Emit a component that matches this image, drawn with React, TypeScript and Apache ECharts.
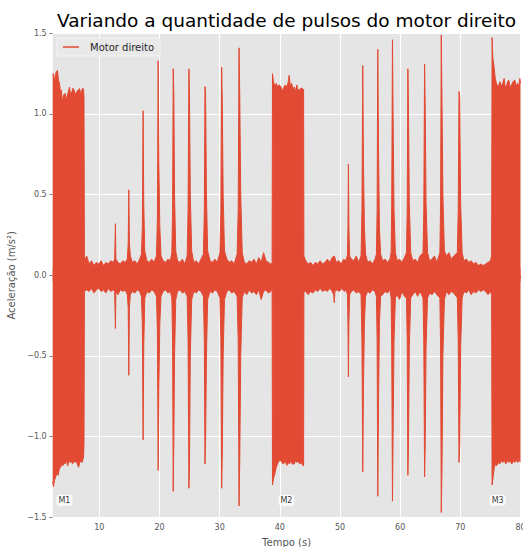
import React, { useEffect, useRef } from "react";
import * as echarts from "echarts";

const TITLE = "Variando a quantidade de pulsos do motor direito";
const SERIES_NAME = "Motor direito";
const X_NAME = "Tempo (s)";
const Y_NAME = "Aceleração (m/s²)";

// Upper envelope of the acceleration signal, [time (s), value (m/s²)]
const upperEnvelope: [number, number][] = [
  [2.25, 1.24], [2.38, 1.25], [2.6, 1.2], [2.8, 1.26], [3.05, 1.27], [3.2, 1.21], [3.39, 1.19], [3.55, 1.12],
  [3.67, 1.15], [3.8, 1.1], [3.95, 1.085], [4.1, 1.12], [4.33, 1.127], [4.45, 1.09], [4.61, 1.106], [4.8, 1.13],
  [5.05, 1.167], [5.2, 1.12], [5.45, 1.137], [5.6, 1.16], [5.83, 1.147], [6.0, 1.12], [6.28, 1.137], [6.5, 1.15],
  [6.72, 1.157], [6.9, 1.12], [7.11, 1.15], [7.25, 1.16], [7.39, 1.15], [7.45, 1.1], [7.52, 0.09],
  [7.9, 0.12], [8.3, 0.07], [8.7, 0.09], [9.1, 0.06], [9.5, 0.08], [9.9, 0.07], [10.3, 0.09], [10.7, 0.06],
  [11.1, 0.08], [11.5, 0.07], [11.9, 0.09], [12.3, 0.08],
  [12.55, 0.1], [12.67, 0.32], [12.75, 0.1],
  [13.1, 0.08], [13.5, 0.07], [13.9, 0.09], [14.3, 0.08], [14.65, 0.1],
  [14.8, 0.2], [14.9, 0.53], [15.0, 0.2], [15.15, 0.12],
  [15.5, 0.08], [15.9, 0.09], [16.3, 0.07], [16.7, 0.1], [17.0, 0.13],
  [17.15, 0.3], [17.28, 1.02], [17.38, 0.45], [17.55, 0.15],
  [17.9, 0.09], [18.3, 0.08], [18.7, 0.1], [19.1, 0.08], [19.5, 0.12],
  [19.65, 0.35], [19.78, 1.33], [19.9, 0.7], [20.05, 0.3], [20.25, 0.12],
  [20.6, 0.09], [21.0, 0.08], [21.4, 0.1], [21.8, 0.09], [22.05, 0.14],
  [22.18, 0.4], [22.28, 1.28], [22.38, 1.13], [22.5, 0.5], [22.7, 0.15],
  [23.0, 0.09], [23.4, 0.08], [23.8, 0.1], [24.2, 0.07], [24.6, 0.12],
  [24.75, 0.4], [24.89, 1.28], [24.98, 1.12], [25.12, 0.5], [25.35, 0.15],
  [25.7, 0.08], [26.1, 0.09], [26.5, 0.07], [26.9, 0.1], [27.3, 0.13],
  [27.45, 0.4], [27.56, 1.17], [27.66, 1.13], [27.8, 0.5], [28.0, 0.15],
  [28.4, 0.09], [28.8, 0.08], [29.2, 0.1], [29.6, 0.08], [30.05, 0.14],
  [30.2, 0.4], [30.33, 1.29], [30.43, 1.09], [30.58, 0.5], [30.8, 0.15],
  [31.2, 0.1], [31.6, 0.08], [32.0, 0.09], [32.4, 0.07], [32.9, 0.13],
  [33.08, 0.4], [33.22, 1.41], [33.34, 1.11], [33.5, 0.5], [33.75, 0.14],
  [34.1, 0.08], [34.5, 0.07], [34.9, 0.09], [35.3, 0.08], [35.7, 0.1], [36.1, 0.07], [36.5, 0.11], [36.9, 0.08],
  [37.3, 0.14], [37.7, 0.09], [38.1, 0.08], [38.5, 0.07], [38.72, 0.08],
  [38.78, 1.25], [38.95, 1.2], [39.17, 1.167], [39.4, 1.19], [39.6, 1.17], [39.9, 1.18], [40.17, 1.17], [40.4, 1.14],
  [40.6, 1.16], [40.9, 1.18], [41.17, 1.167], [41.4, 1.2], [41.55, 1.24], [41.75, 1.17], [41.95, 1.19], [42.2, 1.15],
  [42.39, 1.167], [42.6, 1.14], [42.83, 1.18], [43.0, 1.15], [43.22, 1.147], [43.5, 1.16], [43.78, 1.157], [43.95, 1.15],
  [44.0, 0.12],
  [44.3, 0.09], [44.7, 0.07], [45.1, 0.08], [45.5, 0.06], [45.9, 0.08], [46.3, 0.07], [46.7, 0.09], [47.1, 0.07],
  [47.5, 0.08], [47.9, 0.1], [48.3, 0.08], [48.7, 0.11], [49.05, 0.12], [49.4, 0.08], [49.8, 0.09], [50.2, 0.07],
  [50.6, 0.1], [51.0, 0.09], [51.25, 0.13],
  [51.32, 0.3], [51.4, 0.69], [51.48, 0.3], [51.6, 0.12],
  [51.9, 0.1], [52.3, 0.09], [52.7, 0.12], [53.1, 0.08], [53.5, 0.12],
  [53.65, 0.4], [53.78, 1.3], [53.9, 0.7], [54.05, 0.3], [54.25, 0.13],
  [54.6, 0.08], [55.0, 0.09], [55.4, 0.07], [55.8, 0.1], [56.05, 0.13],
  [56.17, 0.4], [56.28, 1.4], [56.4, 0.8], [56.55, 0.3], [56.75, 0.13],
  [57.1, 0.09], [57.5, 0.1], [57.9, 0.08], [58.3, 0.1], [58.5, 0.14],
  [58.6, 0.45], [58.72, 1.46], [58.82, 1.0], [58.98, 0.4], [59.2, 0.14],
  [59.5, 0.09], [59.9, 0.1], [60.3, 0.08], [60.7, 0.11], [61.05, 0.14],
  [61.17, 0.4], [61.28, 1.28], [61.38, 1.04], [61.52, 0.45], [61.75, 0.14],
  [62.1, 0.09], [62.5, 0.1], [62.9, 0.08], [63.3, 0.12], [63.8, 0.14],
  [63.93, 0.4], [64.06, 1.31], [64.16, 1.05], [64.3, 0.45], [64.55, 0.14],
  [64.9, 0.09], [65.3, 0.1], [65.7, 0.12], [66.1, 0.08], [66.6, 0.14],
  [66.72, 0.45], [66.83, 1.49], [66.95, 1.09], [67.1, 0.5], [67.35, 0.15],
  [67.7, 0.12], [68.1, 0.14], [68.5, 0.1], [68.9, 0.12], [69.5, 0.14],
  [69.65, 0.4], [69.78, 1.14], [69.9, 1.1], [70.05, 0.45], [70.3, 0.14],
  [70.6, 0.09], [71.0, 0.1], [71.4, 0.08], [71.8, 0.09], [72.2, 0.07], [72.6, 0.08], [73.0, 0.06], [73.4, 0.07],
  [73.8, 0.06], [74.2, 0.07], [74.6, 0.08], [75.0, 0.09], [75.2, 0.12],
  [75.28, 1.474], [75.4, 1.35], [75.61, 1.29], [75.8, 1.22], [76.0, 1.19], [76.2, 1.17], [76.39, 1.18], [76.6, 1.2],
  [76.83, 1.17], [77.05, 1.19], [77.28, 1.22], [77.45, 1.17], [77.67, 1.17], [77.85, 1.2], [78.06, 1.21], [78.3, 1.16],
  [78.5, 1.18], [78.75, 1.2], [79.06, 1.21], [79.3, 1.17], [79.5, 1.19], [79.7, 1.17], [79.89, 1.22], [80.0, 1.19],
];

// Lower envelope of the acceleration signal, [time (s), value (m/s²)]
const lowerEnvelope: [number, number][] = [
  [2.25, -1.28], [2.38, -1.31], [2.55, -1.27], [2.75, -1.25], [2.95, -1.22], [3.15, -1.24], [3.35, -1.2], [3.55, -1.19],
  [3.75, -1.17], [3.95, -1.18], [4.15, -1.16], [4.33, -1.17], [4.55, -1.15], [4.75, -1.18], [4.95, -1.147], [5.15, -1.16],
  [5.35, -1.15], [5.55, -1.17], [5.75, -1.15], [5.95, -1.16], [6.15, -1.15], [6.35, -1.17], [6.55, -1.19], [6.75, -1.16],
  [6.95, -1.15], [7.11, -1.16], [7.3, -1.14], [7.39, -1.116], [7.45, -1.05], [7.52, -0.1],
  [7.9, -0.09], [8.3, -0.1], [8.7, -0.08], [9.1, -0.11], [9.5, -0.09], [9.9, -0.08], [10.3, -0.1], [10.7, -0.09],
  [11.1, -0.11], [11.5, -0.08], [11.9, -0.1], [12.3, -0.09],
  [12.55, -0.1], [12.67, -0.33], [12.75, -0.1],
  [13.1, -0.12], [13.5, -0.09], [13.9, -0.1], [14.3, -0.09], [14.65, -0.12],
  [14.8, -0.2], [14.9, -0.62], [15.0, -0.2], [15.15, -0.12],
  [15.5, -0.1], [15.9, -0.11], [16.3, -0.09], [16.7, -0.1], [17.0, -0.13],
  [17.15, -0.3], [17.28, -1.02], [17.38, -0.45], [17.55, -0.14],
  [17.9, -0.1], [18.3, -0.11], [18.7, -0.09], [19.1, -0.1], [19.5, -0.13],
  [19.65, -0.35], [19.78, -1.21], [19.9, -0.7], [20.05, -0.3], [20.25, -0.13],
  [20.6, -0.1], [21.0, -0.09], [21.4, -0.11], [21.8, -0.1], [22.05, -0.14],
  [22.18, -0.4], [22.28, -1.34], [22.38, -1.04], [22.5, -0.5], [22.7, -0.15],
  [23.0, -0.1], [23.4, -0.09], [23.8, -0.11], [24.2, -0.1], [24.6, -0.13],
  [24.75, -0.4], [24.89, -1.32], [24.98, -1.2], [25.12, -0.5], [25.35, -0.15],
  [25.7, -0.1], [26.1, -0.11], [26.5, -0.09], [26.9, -0.1], [27.3, -0.13],
  [27.45, -0.4], [27.56, -1.17], [27.66, -1.03], [27.8, -0.5], [28.0, -0.15],
  [28.4, -0.1], [28.8, -0.11], [29.2, -0.09], [29.6, -0.1], [30.05, -0.14],
  [30.2, -0.4], [30.33, -1.32], [30.43, -1.12], [30.58, -0.5], [30.8, -0.15],
  [31.2, -0.1], [31.6, -0.09], [32.0, -0.11], [32.4, -0.1], [32.9, -0.13],
  [33.08, -0.4], [33.22, -1.43], [33.34, -1.14], [33.5, -0.5], [33.75, -0.14],
  [34.1, -0.1], [34.5, -0.12], [34.9, -0.09], [35.3, -0.11], [35.7, -0.1], [36.1, -0.12], [36.5, -0.09], [36.9, -0.15],
  [37.3, -0.1], [37.7, -0.09], [38.1, -0.11], [38.5, -0.1], [38.72, -0.08],
  [38.78, -1.3], [38.95, -1.26], [39.17, -1.23], [39.4, -1.19], [39.6, -1.17], [39.85, -1.15], [40.1, -1.147], [40.35, -1.16],
  [40.6, -1.17], [40.85, -1.15], [41.17, -1.178], [41.4, -1.16], [41.6, -1.17], [41.85, -1.15], [42.1, -1.17], [42.39, -1.17],
  [42.6, -1.15], [42.83, -1.16], [43.05, -1.15], [43.3, -1.17], [43.55, -1.16], [43.8, -1.178], [43.95, -1.18], [44.0, -0.1],
  [44.3, -0.1], [44.7, -0.12], [45.1, -0.1], [45.5, -0.11], [45.9, -0.09], [46.3, -0.1], [46.7, -0.08], [47.1, -0.1],
  [47.5, -0.09], [47.9, -0.1], [48.3, -0.08], [48.7, -0.1], [48.95, -0.12], [49.05, -0.17], [49.15, -0.1], [49.5, -0.09],
  [49.9, -0.1], [50.3, -0.08], [50.7, -0.1], [51.0, -0.09], [51.25, -0.12],
  [51.32, -0.3], [51.4, -0.63], [51.48, -0.3], [51.6, -0.12],
  [51.9, -0.1], [52.3, -0.09], [52.7, -0.11], [53.1, -0.1], [53.5, -0.12],
  [53.65, -0.4], [53.78, -1.22], [53.9, -0.7], [54.05, -0.3], [54.25, -0.13],
  [54.6, -0.1], [55.0, -0.11], [55.4, -0.09], [55.8, -0.1], [56.05, -0.13],
  [56.17, -0.4], [56.28, -1.37], [56.4, -0.8], [56.55, -0.3], [56.75, -0.13],
  [57.1, -0.12], [57.5, -0.1], [57.9, -0.11], [58.3, -0.09], [58.5, -0.14],
  [58.6, -0.45], [58.72, -1.4], [58.82, -1.0], [58.98, -0.4], [59.2, -0.14],
  [59.5, -0.12], [59.9, -0.15], [60.3, -0.1], [60.7, -0.13], [61.05, -0.14],
  [61.17, -0.4], [61.28, -1.24], [61.38, -1.06], [61.52, -0.45], [61.75, -0.14],
  [62.1, -0.12], [62.5, -0.1], [62.9, -0.13], [63.3, -0.1], [63.8, -0.14],
  [63.93, -0.4], [64.06, -1.25], [64.16, -1.06], [64.3, -0.45], [64.55, -0.14],
  [64.9, -0.11], [65.3, -0.12], [65.7, -0.1], [66.1, -0.12], [66.6, -0.14],
  [66.72, -0.45], [66.83, -1.47], [66.95, -1.21], [67.1, -0.5], [67.35, -0.15],
  [67.7, -0.1], [68.1, -0.12], [68.5, -0.1], [68.9, -0.11], [69.5, -0.14],
  [69.65, -0.4], [69.78, -1.16], [69.9, -1.05], [70.05, -0.45], [70.3, -0.14],
  [70.6, -0.1], [71.0, -0.11], [71.4, -0.09], [71.8, -0.12], [72.2, -0.1], [72.6, -0.11], [73.0, -0.09], [73.4, -0.1],
  [73.8, -0.09], [74.2, -0.1], [74.6, -0.12], [75.0, -0.1], [75.2, -0.12],
  [75.28, -1.3], [75.45, -1.25], [75.65, -1.19], [75.85, -1.17], [76.05, -1.18], [76.3, -1.16], [76.55, -1.17], [76.8, -1.15],
  [77.05, -1.16], [77.3, -1.147], [77.55, -1.17], [77.8, -1.15], [78.05, -1.16], [78.3, -1.15], [78.55, -1.17], [78.8, -1.15],
  [79.05, -1.16], [79.3, -1.147], [79.55, -1.16], [79.8, -1.15], [80.0, -1.155],
];

const annotationLabels = ["M1", "M2", "M3"];
const annotationTimes = [4.2, 41.1, 76.2];
const annotationValues = [-1.395, -1.395, -1.395];

const RED = "#E24A33";
const FONT = "DejaVu Sans";

export default function App() {
  const ref = useRef<HTMLDivElement>(null);

  useEffect(() => {
    if (!ref.current) return;
    const chart = echarts.init(ref.current, null, { renderer: "svg" });

    const fmt = (v: number) => (v < 0 ? "\u2212" : "") + Math.abs(v).toFixed(1);

    const annotationData = annotationLabels.map((l, i) => ({
      value: [annotationTimes[i], annotationValues[i]],
      label: { formatter: l },
    }));

    const option: any = {
      animation: false,
      backgroundColor: "#ffffff",
      textStyle: { fontFamily: FONT },
      title: {
        text: TITLE,
        left: 57,
        top: 11,
        padding: 0,
        textStyle: { fontFamily: FONT, fontSize: 18.5, fontWeight: "normal", color: "#000000" },
      },
      legend: {
        data: [{ name: SERIES_NAME }],
        left: 57,
        top: 38,
        orient: "vertical",
        icon: "rect",
        itemWidth: 16,
        itemHeight: 1.5,
        padding: [4, 6, 4, 6],
        backgroundColor: "#E9E9E9",
        borderColor: "#F4F4F4",
        borderWidth: 1,
        borderRadius: 0,
        selectedMode: false,
        textStyle: { fontFamily: FONT, fontSize: 10, color: "#262626", padding: [0, 0, 0, 6] },
      },
      grid: {
        left: 52.7,
        right: 2.5,
        top: 33.3,
        bottom: 29.7,
        show: true,
        backgroundColor: "#E5E5E5",
        borderWidth: 0,
        containLabel: false,
        outerBoundsMode: "none",
      },
      xAxis: {
        type: "value",
        min: 2.25,
        max: 80,
        minInterval: 10,
        maxInterval: 10,
        splitNumber: 8,
        name: X_NAME,
        nameLocation: "middle",
        nameGap: 20,
        nameTextStyle: { fontFamily: FONT, fontSize: 10, color: "#555555" },
        axisLine: { show: false },
        axisTick: { show: true, length: 3.5, lineStyle: { color: "#888888", width: 1 } },
        axisLabel: {
          showMinLabel: false,
          fontFamily: FONT,
          fontSize: 8,
          color: "#555555",
          margin: 6,
        },
        splitLine: { show: true, showMinLine: false, lineStyle: { color: "#FFFFFF", width: 1 } },
      },
      yAxis: {
        type: "value",
        min: -1.5,
        max: 1.5,
        interval: 0.5,
        name: Y_NAME,
        nameLocation: "middle",
        nameRotate: 90,
        nameGap: 27,
        nameTextStyle: { fontFamily: FONT, fontSize: 10, color: "#555555" },
        axisLine: { show: false },
        axisTick: { show: true, length: 3.5, lineStyle: { color: "#888888", width: 1 } },
        axisLabel: {
          fontFamily: FONT,
          fontSize: 8,
          color: "#555555",
          margin: 6,
          formatter: fmt,
        },
        splitLine: { show: true, lineStyle: { color: "#FFFFFF", width: 1 } },
      },
      series: [
        {
          type: "line",
          name: SERIES_NAME,
          data: upperEnvelope,
          symbol: "none",
          showSymbol: false,
          silent: true,
          color: RED,
          lineStyle: { color: RED, width: 1 },
          itemStyle: { color: RED },
          areaStyle: { color: RED, opacity: 1, origin: -0.04 },
          z: 2,
        },
        {
          type: "line",
          name: SERIES_NAME,
          data: lowerEnvelope,
          symbol: "none",
          showSymbol: false,
          silent: true,
          color: RED,
          lineStyle: { color: RED, width: 1 },
          itemStyle: { color: RED },
          areaStyle: { color: RED, opacity: 1, origin: 0.04 },
          z: 2,
        },
        {
          type: "scatter",
          name: "anotacoes",
          data: annotationData,
          symbolSize: 1,
          silent: true,
          itemStyle: { color: "rgba(0,0,0,0)" },
          label: {
            show: true,
            position: "inside",
            fontFamily: FONT,
            fontSize: 8,
            color: "#000000",
            backgroundColor: "#FFFFFF",
            borderRadius: 3,
            padding: [2, 2, 1, 2],
          },
          z: 5,
        },
      ],
    };

    chart.setOption(option);
    return () => chart.dispose();
  }, []);

  return (
    <div
      ref={ref}
      style={{ position: "absolute", left: 0, top: 0, width: 523, height: 547 }}
    />
  );
}
